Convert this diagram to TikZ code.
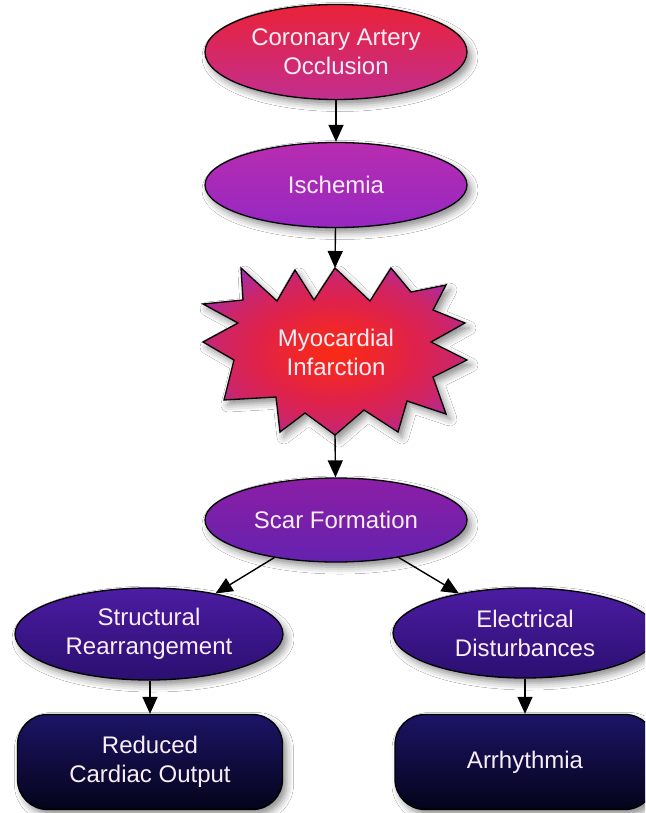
\documentclass[tikz,border=0pt]{standalone}
\usepackage{fontspec}
\setmainfont{Liberation Sans}
\usetikzlibrary{shapes.geometric,arrows.meta,shadows.blur}
\definecolor{occtop}{HTML}{EA2238}
\definecolor{occbot}{HTML}{C22E90}
\definecolor{isctop}{HTML}{B82CB0}
\definecolor{iscbot}{HTML}{9628C2}
\definecolor{miin}{HTML}{FA2A14}
\definecolor{mimid}{HTML}{E0224A}
\definecolor{miout}{HTML}{A42CA8}
\definecolor{scartop}{HTML}{8C1EA6}
\definecolor{scarbot}{HTML}{6422AE}
\definecolor{midtop}{HTML}{4C1CA2}
\definecolor{midbot}{HTML}{2A0F70}
\definecolor{boxtop}{HTML}{1C1466}
\definecolor{boxbot}{HTML}{04041A}
\definecolor{txt}{HTML}{FAEEF6}
\pgfdeclareradialshading{miburst}{\pgfpoint{0bp}{0bp}}{color(0bp)=(miin); color(7bp)=(miin!60!mimid); color(15bp)=(mimid); color(22bp)=(mimid!70!miout); color(30bp)=(miout); color(50bp)=(miout)}
\begin{document}
\begin{tikzpicture}[x=1pt,y=-1pt,
  every node/.style={font=\fontsize{24}{29}\selectfont, text=txt, align=center},
  shadowed/.style={blur shadow={shadow xshift=4pt, shadow yshift=-5pt, shadow blur radius=7pt, shadow opacity=45}},
  oval/.style={ellipse, draw=black, line width=1.3pt, inner sep=0pt, shadowed},
  endbox/.style={rectangle, rounded corners=30pt, draw=black, line width=1.3pt, inner sep=0pt, shadowed,
    top color=boxtop, bottom color=boxbot, minimum width=265pt, minimum height=95pt},
  link/.style={draw=black, line width=1.4pt, -{Triangle[length=17pt,width=15pt]}}
]
\path[use as bounding box] (0,0) rectangle (645,813);
\clip (0,0) rectangle (645,813);
\fill[white] (0,0) rectangle (645,813);

\node[oval, minimum width=262pt, minimum height=95pt, top color=occtop, bottom color=occbot] (occ) at (336,52) {Coronary Artery\\Occlusion};
\node[oval, minimum width=262pt, minimum height=85pt, top color=isctop, bottom color=iscbot] (isc) at (336,185) {Ischemia};

\path[draw=black, line width=1.3pt, line join=miter, shading=miburst, shadowed]
  (335,268) -- (370,301) -- (391,268) -- (411,292) -- (446,285) -- (433,310) -- (465,323) -- (431,342)
  -- (467,360) -- (433,377) -- (446,414) -- (407,401) -- (398,432) -- (364,410) -- (335,435)
  -- (305,413) -- (280,432) -- (276,397) -- (224,400) -- (234,360) -- (203,342) -- (238,323)
  -- (203,304) -- (243,300) -- (241,268) -- (277,301) -- (295,270) -- (314,300) -- cycle;
\coordinate (mitop) at (335,268);
\coordinate (mibot) at (335,435);
\node (mi) at (336,352) {Myocardial\\Infarction};

\node[oval, minimum width=262pt, minimum height=84pt, top color=scartop, bottom color=scarbot] (scar) at (336,520) {Scar Formation};
\node[oval, minimum width=268pt, minimum height=92pt, top color=midtop, bottom color=midbot] (str) at (149,634) {Structural\\Rearrangement};
\node[oval, minimum width=264pt, minimum height=90pt, top color=midtop, bottom color=midbot] (ele) at (525,633) {Electrical\\Disturbances};
\node[endbox] (rco) at (150,762) {Reduced\\Cardiac Output};
\node[endbox, minimum width=260pt] (arr) at (525,762) {Arrhythmia};

\draw[link] (occ) -- (isc);
\draw[link] (isc) -- (mitop);
\draw[link] (mibot) -- (scar);
\draw[link] (scar) -- (str);
\draw[link] (scar) -- (ele);
\draw[link] (str.south -| rco.north) -- (rco.north);
\draw[link] (ele) -- (arr);
\end{tikzpicture}
\end{document}
